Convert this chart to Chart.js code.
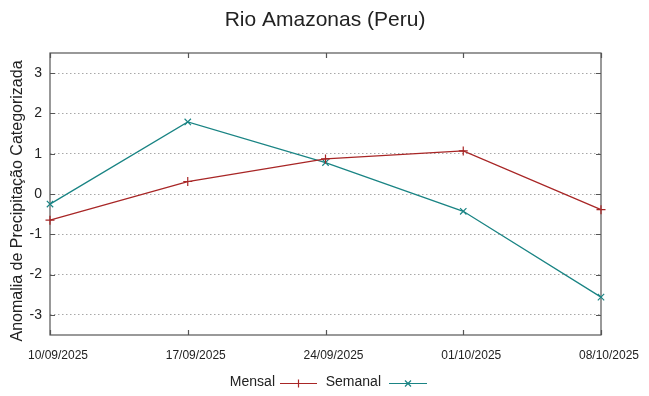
<!DOCTYPE html>
<html>
<head>
<meta charset="utf-8">
<script src="https://cdn.jsdelivr.net/npm/chart.js@4.4.1/dist/chart.umd.min.js"></script>
<style>
    html, body { margin: 0; padding: 0; background: #ffffff; }
    #wrap { width: 649px; height: 396px; }
</style>
</head>
<body>
<div id="wrap"><canvas id="chart" width="649" height="396"></canvas></div>
<script>
// Chart data
const categories = ['10/09/2025', '17/09/2025', '24/09/2025', '01/10/2025', '08/10/2025'];
const mensalValues = [-0.65, 0.31, 0.87, 1.07, -0.39];
const semanalValues = [-0.25, 1.79, 0.78, -0.43, -2.56];
const yTicks = [-3, -2, -1, 0, 1, 2, 3];

const titleText = 'Rio Amazonas (Peru)';
const yTitleText = 'Anomalia de Precipitação Categorizada';

const FONT = '"Liberation Sans", Arial, sans-serif';
const textColor = '#222222';
const borderColor = '#555555';

// Frame, inward ticks, titles and legend in gnuplot style
const framePlugin = {
    id: 'frame',
    beforeDatasetsDraw(chart) {
        const { ctx, chartArea: a, scales } = chart;
        ctx.save();
        ctx.strokeStyle = borderColor;
        ctx.lineWidth = 1.2;
        ctx.strokeRect(a.left, a.top, a.right - a.left, a.bottom - a.top);

        // y ticks on left and right
        ctx.beginPath();
        yTicks.forEach(v => {
            const y = Math.round(scales.y.getPixelForValue(v)) + 0.5;
            ctx.moveTo(a.left, y); ctx.lineTo(a.left + 5, y);
            ctx.moveTo(a.right, y); ctx.lineTo(a.right - 5, y);
        });
        // x ticks on top and bottom
        categories.forEach((c, i) => {
            const x = Math.round(scales.x.getPixelForValue(i)) + 0.5;
            ctx.moveTo(x, a.top); ctx.lineTo(x, a.top + 5);
            ctx.moveTo(x, a.bottom); ctx.lineTo(x, a.bottom - 5);
        });
        ctx.stroke();

        // main title
        ctx.fillStyle = textColor;
        ctx.font = '21px ' + FONT;
        ctx.textAlign = 'center';
        ctx.textBaseline = 'alphabetic';
        ctx.fillText(titleText, 325, 26);

        // rotated y axis title
        ctx.font = '16px ' + FONT;
        ctx.textBaseline = 'middle';
        ctx.translate(18, 201);
        ctx.rotate(-Math.PI / 2);
        ctx.fillText(yTitleText, 0, 0);
        ctx.restore();
    },
    afterDraw(chart) {
        const { ctx } = chart;
        const ly = 383.5;
        const items = [
            { textRight: 275, lineStart: 280, lineEnd: 317 },
            { textRight: 381, lineStart: 389, lineEnd: 427 }
        ];
        ctx.save();
        chart.data.datasets.forEach((ds, i) => {
            const it = items[i];
            ctx.fillStyle = textColor;
            ctx.font = '14px ' + FONT;
            ctx.textAlign = 'right';
            ctx.textBaseline = 'middle';
            ctx.fillText(ds.label, it.textRight, ly - 1.5);

            ctx.strokeStyle = ds.borderColor;
            ctx.lineWidth = 1.2;
            ctx.beginPath();
            ctx.moveTo(it.lineStart, ly);
            ctx.lineTo(it.lineEnd, ly);
            ctx.stroke();

            const mx = (it.lineStart + it.lineEnd) / 2;
            const r = 4;
            ctx.beginPath();
            if (ds.pointStyle === 'cross') {
                ctx.moveTo(mx, ly - r); ctx.lineTo(mx, ly + r);
            } else {
                const d = r * 0.75;
                ctx.moveTo(mx - d, ly - d); ctx.lineTo(mx + d, ly + d);
                ctx.moveTo(mx - d, ly + d); ctx.lineTo(mx + d, ly - d);
            }
            ctx.stroke();
        });
        ctx.restore();
    }
};

const ctx = document.getElementById('chart').getContext('2d');
new Chart(ctx, {
    type: 'line',
    data: {
        labels: categories,
        datasets: [{
            label: 'Mensal',
            data: mensalValues,
            borderColor: '#a82626',
            backgroundColor: '#a82626',
            borderWidth: 1.3,
            pointStyle: 'cross',
            pointRadius: 4.5,
            pointBorderWidth: 1.2,
            tension: 0
        }, {
            label: 'Semanal',
            data: semanalValues,
            borderColor: '#1a8484',
            backgroundColor: '#1a8484',
            borderWidth: 1.3,
            pointStyle: 'crossRot',
            pointRadius: 4.5,
            pointBorderWidth: 1.2,
            tension: 0
        }]
    },
    options: {
        responsive: false,
        animation: false,
        layout: {
            padding: { top: 53, right: 48, bottom: 0, left: 0 }
        },
        plugins: {
            legend: { display: false },
            tooltip: { enabled: false },
            title: { display: false }
        },
        scales: {
            x: {
                offset: false,
                grid: { display: false, drawTicks: false },
                border: { display: false },
                ticks: {
                    color: textColor,
                    font: { family: FONT, size: 12 },
                    padding: 13,
                    labelOffset: 8,
                    maxRotation: 0,
                    autoSkip: false
                },
                afterFit(scale) { scale.height = 61; }
            },
            y: {
                min: -3.5,
                max: 3.5,
                afterBuildTicks(scale) {
                    scale.ticks = yTicks.map(v => ({ value: v }));
                },
                grid: {
                    color: '#a8a8a8',
                    lineWidth: 1,
                    drawTicks: false
                },
                border: { display: false, dash: [1.5, 2.5] },
                ticks: {
                    color: textColor,
                    font: { family: FONT, size: 14 },
                    padding: 8
                },
                afterFit(scale) { scale.width = 50; }
            }
        }
    },
    plugins: [framePlugin]
});
</script>
</body>
</html>
